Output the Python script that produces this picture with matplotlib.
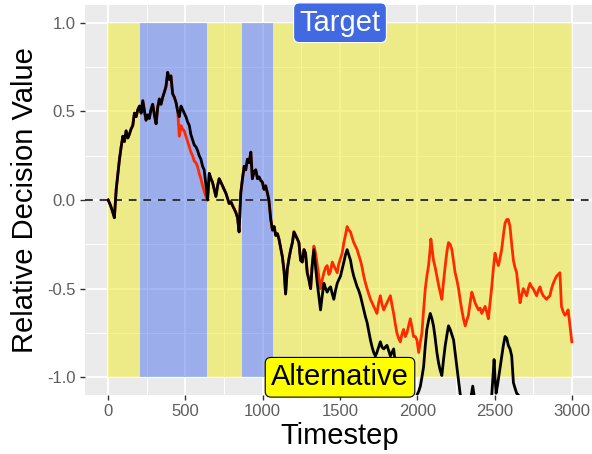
import numpy as np
import matplotlib
matplotlib.use("Agg")
import matplotlib.pyplot as plt
from matplotlib.patches import Rectangle

plt.rcParams['font.family'] = ['Liberation Sans', 'DejaVu Sans']

# ---- data ----
# both traces share this stretch
t_shared_a = [0, 15, 30, 40, 52, 62, 73, 84, 95, 105, 116, 127, 137, 148, 159, 170, 181, 192,
              203, 213, 224, 235, 245, 256, 266, 277, 288, 299, 310, 320, 331, 342, 353, 364,
              374, 385, 395, 406, 417, 428, 439, 450]
v_shared_a = [0.00, -0.03, -0.07, -0.10, 0.06, 0.14, 0.23, 0.30, 0.36, 0.33, 0.39, 0.35, 0.37,
              0.40, 0.42, 0.49, 0.47, 0.51, 0.53, 0.49, 0.56, 0.50, 0.45, 0.48, 0.46, 0.51, 0.54,
              0.48, 0.43, 0.52, 0.57, 0.54, 0.58, 0.61, 0.64, 0.72, 0.68, 0.70, 0.60, 0.58, 0.55,
              0.50]

t_split_a = [460, 471, 482, 492, 503, 514, 525, 535, 546, 557, 568, 578, 589, 600, 611, 621, 632]
black_split_a = [0.47, 0.53, 0.51, 0.49, 0.47, 0.44, 0.42, 0.37, 0.34, 0.31, 0.30, 0.28, 0.25,
                 0.23, 0.19, 0.17, 0.09]
red_split_a = [0.36, 0.42, 0.40, 0.39, 0.36, 0.33, 0.30, 0.27, 0.25, 0.22, 0.21, 0.19, 0.15,
               0.12, 0.08, 0.05, 0.02]

t_shared_b = [643, 654, 665, 675, 686, 697, 708, 718, 729, 740, 750, 761, 772, 783, 794, 804,
              815, 826, 837, 847, 858, 869, 880, 890, 901, 912, 923, 933, 944, 955, 966, 976,
              987, 998, 1008, 1019, 1030, 1040, 1052, 1063, 1074, 1084, 1095, 1105, 1116, 1127,
              1138, 1148, 1159, 1170, 1181, 1192, 1202, 1213, 1224, 1234, 1245, 1256, 1267,
              1277, 1288, 1299, 1310, 1320]
v_shared_b = [0.00, 0.15, 0.12, 0.10, 0.06, 0.02, 0.08, 0.12, 0.10, 0.08, 0.06, 0.04, 0.01,
              -0.02, -0.01, -0.03, -0.05, -0.07, -0.10, -0.18, 0.04, 0.12, 0.19, 0.17, 0.23,
              0.21, 0.27, 0.12, 0.16, 0.17, 0.12, 0.13, 0.11, 0.10, 0.06, 0.08, 0.04, 0.00,
              -0.11, -0.17, -0.15, -0.20, -0.19, -0.22, -0.27, -0.32, -0.40, -0.53, -0.39,
              -0.33, -0.28, -0.24, -0.18, -0.20, -0.22, -0.24, -0.34, -0.35, -0.28, -0.30,
              -0.41, -0.45, -0.50, -0.37]

t_red_tail = [1331, 1342, 1353, 1364, 1374, 1385, 1396, 1407, 1417, 1428, 1439, 1450, 1460,
              1471, 1482, 1492, 1503, 1514, 1525, 1535, 1546, 1557, 1568, 1578, 1589, 1600,
              1611, 1621, 1632, 1643, 1654, 1665, 1675, 1686, 1697, 1708, 1718, 1729, 1739,
              1750, 1761, 1772, 1783, 1793, 1804, 1815, 1826, 1836, 1847, 1858, 1868, 1879,
              1890, 1900, 1911, 1922, 1933, 1944, 1955, 1966, 1976, 1987, 1998, 2009, 2020,
              2030, 2041, 2052, 2062, 2073, 2084, 2088, 2095, 2105, 2116, 2127, 2138, 2148,
              2159, 2170, 2181, 2192, 2202, 2213, 2224, 2235, 2245, 2256, 2267, 2277, 2288,
              2299, 2310, 2320, 2331, 2342, 2353, 2364, 2374, 2385, 2396, 2407, 2417, 2428,
              2439, 2449, 2460, 2471, 2482, 2492, 2503, 2514, 2525, 2535, 2546, 2557, 2568,
              2579, 2589, 2600, 2611, 2622, 2632, 2643, 2654, 2665, 2675, 2686, 2697, 2708,
              2718, 2729, 2740, 2750, 2761, 2772, 2783, 2794, 2804, 2815, 2826, 2836, 2847,
              2858, 2869, 2880, 2890, 2901, 2912, 2923, 2933, 2944, 2955, 2966, 2976, 2987,
              3000]
red_tail = [-0.26, -0.30, -0.37, -0.44, -0.50, -0.45, -0.41, -0.38, -0.37, -0.42, -0.40,
            -0.35, -0.37, -0.39, -0.41, -0.36, -0.33, -0.30, -0.24, -0.20, -0.15, -0.17,
            -0.18, -0.21, -0.24, -0.26, -0.28, -0.31, -0.34, -0.38, -0.43, -0.47, -0.50,
            -0.53, -0.56, -0.58, -0.60, -0.62, -0.64, -0.58, -0.54, -0.59, -0.62, -0.60,
            -0.58, -0.56, -0.54, -0.59, -0.64, -0.70, -0.75, -0.78, -0.80, -0.76, -0.73,
            -0.77, -0.75, -0.71, -0.67, -0.72, -0.77, -0.77, -0.79, -0.86, -0.80, -0.75,
            -0.62, -0.50, -0.43, -0.37, -0.27, -0.22, -0.27, -0.34, -0.38, -0.43, -0.48,
            -0.52, -0.56, -0.46, -0.37, -0.29, -0.24, -0.25, -0.28, -0.35, -0.41, -0.45,
            -0.50, -0.56, -0.62, -0.67, -0.71, -0.68, -0.65, -0.58, -0.52, -0.55, -0.58,
            -0.60, -0.62, -0.61, -0.64, -0.62, -0.60, -0.63, -0.67, -0.58, -0.49, -0.39,
            -0.30, -0.34, -0.37, -0.33, -0.28, -0.20, -0.13, -0.11, -0.11, -0.15, -0.25,
            -0.34, -0.38, -0.41, -0.50, -0.58, -0.54, -0.50, -0.52, -0.54, -0.50, -0.47,
            -0.49, -0.50, -0.52, -0.54, -0.51, -0.49, -0.52, -0.54, -0.55, -0.56, -0.55,
            -0.54, -0.50, -0.47, -0.45, -0.43, -0.42, -0.41, -0.60, -0.63, -0.65, -0.64,
            -0.62, -0.70, -0.80]

t_black_tail = [1331, 1342, 1353, 1364, 1374, 1385, 1396, 1407, 1417, 1428, 1439, 1450, 1460,
                1471, 1482, 1492, 1503, 1514, 1525, 1535, 1546, 1557, 1568, 1578, 1589, 1600,
                1611, 1621, 1632, 1643, 1654, 1665, 1675, 1686, 1697, 1708, 1718, 1729, 1739,
                1750, 1761, 1772, 1783, 1793, 1804, 1815, 1826, 1836, 1847, 1858, 1868, 1879,
                1890, 1900, 1911, 1922, 1933, 1944, 1955, 1966, 1976, 1987, 1998, 2009, 2020,
                2030, 2041, 2052, 2062, 2073, 2084, 2095, 2105, 2116, 2127, 2138, 2148, 2159,
                2170, 2181, 2192, 2202, 2213, 2224, 2235, 2245, 2256, 2267, 2277, 2288, 2299,
                2320, 2342, 2353, 2359, 2364, 2374, 2396, 2428, 2460, 2482, 2492, 2497, 2503,
                2510, 2520, 2535, 2546, 2557, 2568, 2579, 2589, 2600, 2611, 2622, 2632, 2643,
                2654, 2665, 2680]
black_tail = [-0.28, -0.38, -0.47, -0.55, -0.62, -0.54, -0.47, -0.50, -0.52, -0.50, -0.49,
              -0.53, -0.56, -0.51, -0.47, -0.45, -0.43, -0.39, -0.35, -0.31, -0.28, -0.31,
              -0.34, -0.39, -0.43, -0.46, -0.49, -0.51, -0.54, -0.58, -0.62, -0.66, -0.69,
              -0.74, -0.79, -0.83, -0.86, -0.88, -0.86, -0.83, -0.80, -0.83, -0.84, -0.83,
              -0.82, -0.85, -0.88, -0.86, -0.84, -0.92, -0.98, -1.04, -1.08, -1.13, -1.16,
              -1.14, -1.12, -1.09, -1.12, -1.15, -1.18, -1.14, -1.10, -1.08, -1.05, -1.00,
              -0.94, -0.82, -0.73, -0.68, -0.64, -0.67, -0.71, -0.78, -0.86, -0.92, -0.96,
              -0.99, -0.90, -0.82, -0.76, -0.71, -0.73, -0.76, -0.79, -0.86, -0.94, -1.02,
              -1.09, -1.14, -1.18, -1.20, -1.14, -1.08, -1.05, -1.08, -1.14, -1.20, -1.22,
              -1.16, -1.10, -0.97, -0.90, -1.00, -1.09, -1.04, -0.95, -0.88, -0.82, -0.77,
              -0.78, -0.82, -0.84, -0.88, -1.03, -1.06, -1.09, -1.10, -1.14, -1.20]

# shaded phases (start, end)
target_spans = [(206, 639), (865, 1065)]
alternative_spans = [(0, 206), (639, 865), (1065, 3000)]

x_ticks = [0, 500, 1000, 1500, 2000, 2500, 3000]
y_ticks = [-1.0, -0.5, 0.0, 0.5, 1.0]

# ---- assemble series ----
t_black = np.concatenate([t_shared_a, t_split_a, t_shared_b, t_black_tail])
y_black = np.concatenate([v_shared_a, black_split_a, v_shared_b, black_tail])
t_red = np.concatenate([t_shared_a, t_split_a, t_shared_b, t_red_tail])
y_red = np.concatenate([v_shared_a, red_split_a, v_shared_b, red_tail])

fig = plt.figure(figsize=(5.92, 4.54), dpi=100)
ax = fig.add_axes([85/592, 59/454, 510/592, 390/454])
ax.set_facecolor('#EBEBEB')
for s in ax.spines.values():
    s.set_visible(False)

ax.set_xlim(-150, 3150)
ax.set_ylim(-1.1, 1.1)
ax.set_xticks(x_ticks)
ax.set_yticks(y_ticks)
ax.set_xticks([250, 750, 1250, 1750, 2250, 2750], minor=True)
ax.set_yticks([-0.75, -0.25, 0.25, 0.75], minor=True)
ax.set_xticklabels([str(v) for v in x_ticks])
ax.set_yticklabels(['%.1f' % v for v in y_ticks])
ax.set_axisbelow(True)
ax.grid(which='major', color='white', lw=1.3)
ax.grid(which='minor', color='white', lw=0.7)
ax.tick_params(which='major', length=3.6, width=1, color='#333333',
               labelsize=12, labelcolor='#5e5e5e', pad=3)
ax.tick_params(which='minor', length=0)

# phase rectangles
for a, b in alternative_spans:
    ax.add_patch(Rectangle((a, -1), b - a, 2, facecolor='#EDEB25', alpha=0.5,
                           edgecolor='none', zorder=1))
for a, b in target_spans:
    ax.add_patch(Rectangle((a, -1), b - a, 2, facecolor='#4F71ED', alpha=0.5,
                           edgecolor='none', zorder=1))

ax.axhline(0, color='#333333', lw=1.4, dashes=(4, 3.5), zorder=2)

ax.plot(t_red, y_red, color='#FF2A00', lw=2.0, zorder=3)
ax.plot(t_black, y_black, color='black', lw=2.0, zorder=4)

ax.text(1500, 1.0, 'Target', color='white', fontsize=21, ha='center', va='center',
        zorder=6, bbox=dict(boxstyle='round,pad=0.2,rounding_size=0.2',
                            facecolor='#4169E1', edgecolor='white', lw=0.8))
ax.text(1500, -1.0, 'Alternative', color='black', fontsize=21, ha='center', va='center',
        zorder=6, bbox=dict(boxstyle='round,pad=0.2,rounding_size=0.2',
                            facecolor='#FFFF00', edgecolor='black', lw=0.8))

ax.set_xlabel('Timestep', fontsize=21, color='black', labelpad=2)
ax.set_ylabel('Relative Decision Value', fontsize=21, color='black', labelpad=6)

fig.savefig('out.png', dpi=100)
